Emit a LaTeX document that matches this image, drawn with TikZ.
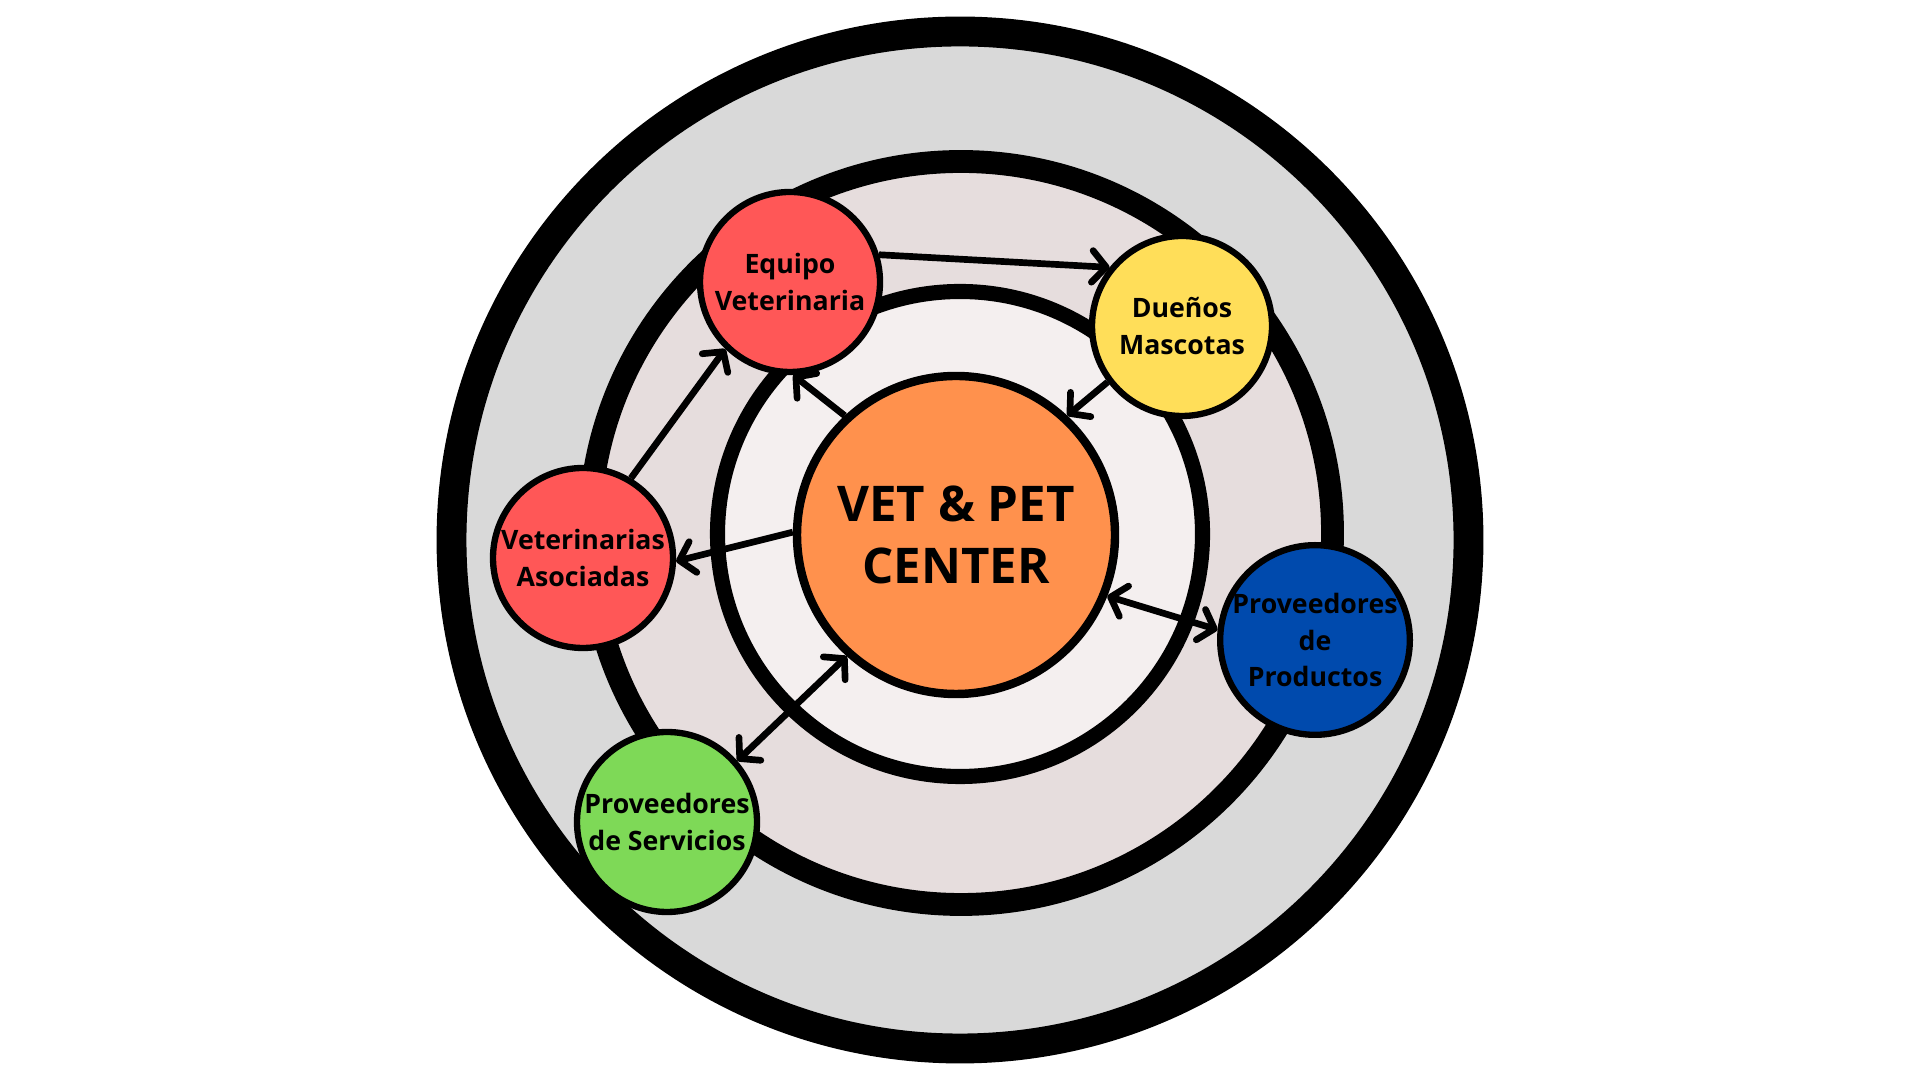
\documentclass[tikz,border=0pt]{standalone}
\usepackage{fontspec}
\setmainfont{Open Sans}
\usepackage{xcolor}
\usetikzlibrary{arrows.meta}

\definecolor{ringout}{HTML}{D9D9D9}
\definecolor{ringmid}{HTML}{E6DDDD}
\definecolor{ringin}{HTML}{F4EFEF}
\definecolor{corefill}{HTML}{FF914D}
\definecolor{rojo}{HTML}{FF5757}
\definecolor{amarillo}{HTML}{FFDE59}
\definecolor{azul}{HTML}{004AAD}
\definecolor{verde}{HTML}{7ED957}

\begin{document}
\begin{tikzpicture}[
  ring/.style={draw=black},
  core/.style={circle,draw,line width=2.4pt,minimum size=3.18cm,inner sep=0pt,
    align=center,fill=corefill,font=\bfseries\fontsize{14}{17.7}\selectfont},
  actor/.style={circle,draw,line width=1.8pt,minimum size=1.8cm,inner sep=0pt,
    align=center,font=\bfseries\fontsize{7.6}{10.5}\selectfont},
  link/.style={line width=1.9pt,-{Straight Barb[length=4pt,width=9pt,round]}},
  both/.style={line width=1.9pt,{Straight Barb[length=4pt,width=9pt,round]}-{Straight Barb[length=4pt,width=9pt,round]}}
]
  \useasboundingbox[fill=white] (0,0) rectangle (19.2,10.8);

  % anillos
  \draw[ring,line width=8.5pt,fill=ringout] (9.60,5.40) circle (5.085);
  \draw[ring,line width=6.5pt,fill=ringmid] (9.61,5.47) circle (3.715);
  \draw[ring,line width=4.3pt,fill=ringin] (9.60,5.46) circle (2.425);

  \node[core] (c) at (9.56,5.45) {VET \& PET\\CENTER};

  \node[actor,fill=rojo] (eq) at (7.90,7.98) {Equipo\\Veterinaria};
  \node[actor,fill=amarillo] (du) at (11.82,7.54) {Dueños\\Mascotas};
  \node[actor,fill=rojo] (va) at (5.83,5.22) {Veterinarias\\Asociadas};
  \node[actor,fill=azul] (pp) at (13.15,4.40) {Proveedores\\de\\Productos};
  \node[actor,fill=verde] (ps) at (6.67,2.58) {Proveedores\\de Servicios};

  \draw[link] (eq.17) -- (du.141);
  \draw[link] (du.217) -- (c.47);
  \draw[link] (c.133) -- (eq.272);
  \draw[link] (va.59) -- (eq.226);
  \draw[link] (c.179) -- (va.358);
  \draw[both] (c.338) -- (pp.174);
  \draw[both] (c.228) -- (ps.41);
\end{tikzpicture}
\end{document}
